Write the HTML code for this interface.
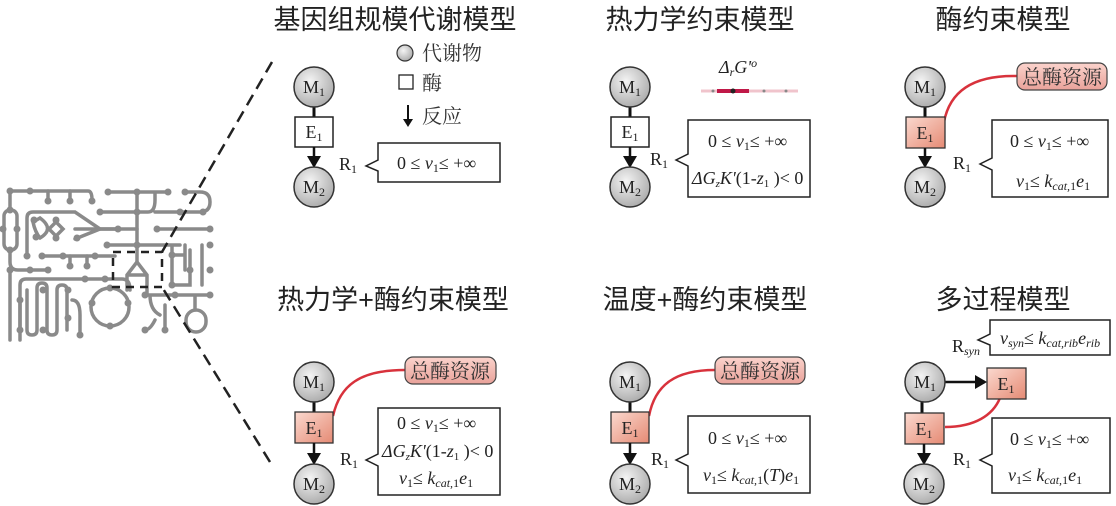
<!DOCTYPE html>
<html><head><meta charset="utf-8"><style>
html,body{margin:0;padding:0;background:#fff;}
svg{display:block;}
.t{font-family:"Liberation Sans","Noto Sans CJK SC",sans-serif;font-size:27px;fill:#222;text-anchor:middle;}
.cj{font-family:"Liberation Serif","Noto Serif CJK SC",serif;font-size:20px;fill:#333;}
.m{font-family:"Liberation Serif",serif;font-size:18px;fill:#222;}
.i{font-style:italic;}
.nl{font-family:"Liberation Serif",serif;font-size:18px;fill:#222;text-anchor:middle;}
.net path,.net line,.net circle.r{stroke:#8a8a8a;stroke-width:3.5;fill:none;stroke-linecap:round;}
.net circle.d{fill:#8a8a8a;}
.pill{font-family:"Liberation Serif","Noto Serif CJK SC",serif;font-size:20px;fill:#333;text-anchor:middle;}
</style></head><body>
<svg width="1116" height="506" viewBox="0 0 1116 506" xmlns="http://www.w3.org/2000/svg">
<defs>
<radialGradient id="gc" cx="40%" cy="35%" r="70%"><stop offset="0" stop-color="#f4f4f4"/><stop offset="1" stop-color="#a9a9a9"/></radialGradient>
<linearGradient id="ge" x1="0" y1="0" x2="1" y2="1"><stop offset="0" stop-color="#fbd9cf"/><stop offset="1" stop-color="#e58a74"/></linearGradient>
<linearGradient id="gp" x1="0" y1="0" x2="0" y2="1"><stop offset="0" stop-color="#fbd3cc"/><stop offset="1" stop-color="#e9a29a"/></linearGradient>
<marker id="ar" markerWidth="8" markerHeight="10" refX="6" refY="5" orient="auto" markerUnits="userSpaceOnUse"><path d="M0,0 L8,5 L0,10 Z" fill="#111"/></marker>
<marker id="ar2" markerWidth="12" markerHeight="14" refX="10" refY="7" orient="auto" markerUnits="userSpaceOnUse"><path d="M0,0 L12,7 L0,14 Z" fill="#111"/></marker>
</defs>

<!-- network -->
<g class="net">
<path d="M10,191 H88 Q92,191 92,200"/><line x1="48" y1="191" x2="48" y2="201"/><line x1="70" y1="191" x2="70" y2="201"/>
<path d="M10,191 V210"/><rect x="4" y="210" width="13" height="40" rx="6" style="stroke:#8a8a8a;stroke-width:3.5;fill:none"/>
<path d="M10,250 V262 Q10,270 18,270 H48"/><line x1="10" y1="270" x2="10" y2="340"/>
<path d="M27,256 V218 Q27,212 33,212 H75 L100,229 H118"/>
<path d="M33,222 Q35,232 40,238 M75,229 L100,229 L75,239 M33,222 L40,218 M40,218 Q55,229 40,238 M56,222 L63,229 L56,236 L49,229 Z"/>
<path d="M42,256 H115"/><path d="M70,256 V266 M87,256 V266"/>
<path d="M20,340 V285 Q20,279 26,279 H122 Q130,279 130,290"/>
<path d="M20,300 V330 M27,290 V330 Q27,335 32,335 Q37,335 37,330 V288 Q37,283 42,283 Q47,283 47,288 V330 Q47,335 52,335 Q57,335 57,330 V290 Q57,285 62,285 Q67,285 67,290 V330 M72,300 Q80,300 80,315 V335"/>
<circle class="r" cx="110" cy="307" r="19"/>
<path d="M108,192 H168 M137,192 V262 M100,212 H148 Q155,212 155,200 V192 M155,212 H203 M185,192 H200 Q210,192 210,202 Q210,212 200,212"/>
<path d="M157,229 H210 M100,229 H137 M107,245 H180 M172,245 V285 M172,255 H185 M185,245 V270 M190,250 V285 H172 M202,245 V285"/>
<path d="M137,262 L127,275 V290 M137,262 L147,275 V295 M127,275 H147"/>
<path d="M145,295 H210 M150,295 Q150,310 160,315 M165,305 V330 M155,320 Q150,330 145,330 M195,295 V310"/>
<rect x="186" y="310" width="20" height="22" rx="10" style="stroke:#8a8a8a;stroke-width:3.5;fill:none"/>
<g>
<circle class="d" cx="10" cy="191" r="3.5"/><circle class="d" cx="30" cy="191" r="3.5"/><circle class="d" cx="48" cy="201" r="3.5"/><circle class="d" cx="70" cy="201" r="3.5"/><circle class="d" cx="92" cy="201" r="3.5"/>
<circle class="d" cx="3" cy="229" r="3.5"/><circle class="d" cx="17" cy="229" r="3.5"/><circle class="d" cx="10" cy="210" r="3.5"/><circle class="d" cx="10" cy="250" r="3.5"/>
<circle class="d" cx="27" cy="256" r="3.5"/><circle class="d" cx="34" cy="220" r="3.5"/><circle class="d" cx="36" cy="237" r="3.5"/><circle class="d" cx="56" cy="220" r="3.5"/><circle class="d" cx="56" cy="238" r="3.5"/><circle class="d" cx="77" cy="238" r="3.5"/><circle class="d" cx="118" cy="229" r="3.5"/>
<circle class="d" cx="42" cy="256" r="3.5"/><circle class="d" cx="63" cy="256" r="3.5"/><circle class="d" cx="95" cy="256" r="3.5"/><circle class="d" cx="70" cy="266" r="3.5"/><circle class="d" cx="87" cy="266" r="3.5"/>
<circle class="d" cx="10" cy="270" r="3.5"/><circle class="d" cx="30" cy="270" r="3.5"/><circle class="d" cx="48" cy="270" r="3.5"/>
<circle class="d" cx="20" cy="300" r="3.5"/><circle class="d" cx="20" cy="330" r="3.5"/><circle class="d" cx="43" cy="290" r="3.5"/><circle class="d" cx="43" cy="330" r="3.5"/><circle class="d" cx="68" cy="290" r="3.5"/><circle class="d" cx="68" cy="318" r="3.5"/><circle class="d" cx="80" cy="335" r="3.5"/>
<circle class="d" cx="85" cy="279" r="3.5"/><circle class="d" cx="105" cy="279" r="3.5"/>
<circle class="d" cx="110" cy="288" r="3.5"/><circle class="d" cx="92" cy="303" r="3.5"/><circle class="d" cx="128" cy="303" r="3.5"/><circle class="d" cx="110" cy="326" r="3.5"/>
<circle class="d" cx="108" cy="192" r="3.5"/><circle class="d" cx="137" cy="192" r="3.5"/><circle class="d" cx="168" cy="192" r="3.5"/><circle class="d" cx="185" cy="192" r="3.5"/>
<circle class="d" cx="100" cy="212" r="3.5"/><circle class="d" cx="137" cy="212" r="3.5"/><circle class="d" cx="203" cy="212" r="3.5"/><circle class="d" cx="180" cy="212" r="3.5"/>
<circle class="d" cx="157" cy="229" r="3.5"/><circle class="d" cx="210" cy="229" r="3.5"/><circle class="d" cx="107" cy="245" r="3.5"/><circle class="d" cx="137" cy="245" r="3.5"/><circle class="d" cx="210" cy="245" r="3.5"/>
<circle class="d" cx="172" cy="255" r="3.5"/><circle class="d" cx="190" cy="270" r="3.5"/><circle class="d" cx="210" cy="270" r="3.5"/><circle class="d" cx="172" cy="285" r="3.5"/>
<circle class="d" cx="145" cy="295" r="3.5"/><circle class="d" cx="175" cy="295" r="3.5"/><circle class="d" cx="210" cy="295" r="3.5"/><circle class="d" cx="145" cy="330" r="3.5"/><circle class="d" cx="165" cy="330" r="3.5"/>
</g>
</g>
<rect x="113" y="252" width="49" height="35" fill="none" stroke="#222" stroke-width="2.5" stroke-dasharray="8,6"/>
<line x1="272" y1="62" x2="162" y2="252" stroke="#222" stroke-width="2.5" stroke-dasharray="12,7"/>
<line x1="270" y1="462" x2="162" y2="287" stroke="#222" stroke-width="2.5" stroke-dasharray="12,7"/>

<!-- Titles -->
<text class="t" x="395" y="29">基因组规模代谢模型</text>
<text class="t" x="700" y="29">热力学约束模型</text>
<text class="t" x="1003" y="29">酶约束模型</text>
<text class="t" x="393" y="309">热力学+酶约束模型</text>
<text class="t" x="705" y="309">温度+酶约束模型</text>
<text class="t" x="1003" y="309">多过程模型</text>

<!-- Legend -->
<circle cx="405" cy="53" r="8" fill="url(#gc)" stroke="#333" stroke-width="1.2"/>
<text class="cj" x="422" y="60">代谢物</text>
<rect x="399" y="75" width="14" height="14" fill="#fff" stroke="#222" stroke-width="1.3"/>
<text class="cj" x="422" y="90">酶</text>
<line x1="408" y1="105" x2="408" y2="125" stroke="#111" stroke-width="2" marker-end="url(#ar)"/>
<text class="cj" x="422" y="123">反应</text>

<!-- Panel 1 -->
<line x1="314" y1="107" x2="314" y2="117" stroke="#111" stroke-width="3"/>
<circle cx="314" cy="87" r="20" fill="url(#gc)" stroke="#333" stroke-width="1.5"/>
<text class="nl" x="314" y="93">M<tspan font-size="12" dy="3">1</tspan></text>
<rect x="295" y="117" width="38" height="30" fill="#fff" stroke="#222" stroke-width="1.5"/>
<text class="nl" x="314" y="138">E<tspan font-size="12" dy="3">1</tspan></text>
<line x1="314" y1="147" x2="314" y2="166" stroke="#111" stroke-width="2.5" marker-end="url(#ar2)"/>
<circle cx="314" cy="187" r="20" fill="url(#gc)" stroke="#333" stroke-width="1.5"/>
<text class="nl" x="314" y="193">M<tspan font-size="12" dy="3">2</tspan></text>
<text class="m" x="339" y="170">R<tspan font-size="12" dy="3">1</tspan></text>
<path d="M378,143 H500 V182 H378 V171 L366,166 L378,160 Z" fill="#fff" stroke="#222" stroke-width="1.5"/>
<text class="m" x="397" y="169">0 ≤ <tspan class="i">v</tspan><tspan font-size="12" dy="3">1</tspan><tspan dy="-3">≤ +∞</tspan></text>

<!-- Panel 2 -->
<line x1="630" y1="107" x2="630" y2="117" stroke="#111" stroke-width="3"/>
<circle cx="630" cy="87" r="20" fill="url(#gc)" stroke="#333" stroke-width="1.5"/>
<text class="nl" x="630" y="93">M<tspan font-size="12" dy="3">1</tspan></text>
<rect x="611" y="117" width="38" height="30" fill="#fff" stroke="#222" stroke-width="1.5"/>
<text class="nl" x="630" y="138">E<tspan font-size="12" dy="3">1</tspan></text>
<line x1="630" y1="147" x2="630" y2="166" stroke="#111" stroke-width="2.5" marker-end="url(#ar2)"/>
<circle cx="630" cy="187" r="20" fill="url(#gc)" stroke="#333" stroke-width="1.5"/>
<text class="nl" x="630" y="193">M<tspan font-size="12" dy="3">2</tspan></text>
<text class="m" x="650" y="165">R<tspan font-size="12" dy="3">1</tspan></text>
<path d="M688,120 H810 V197 H688 V166 L676,160 L688,154 Z" fill="#fff" stroke="#222" stroke-width="1.5"/>
<text class="m" x="708" y="147">0 ≤ <tspan class="i">v</tspan><tspan font-size="12" dy="3">1</tspan><tspan dy="-3">≤ +∞</tspan></text>
<text class="m" x="692" y="184" font-size="17"><tspan class="i">ΔG</tspan><tspan font-size="11" dy="3" class="i">z</tspan><tspan dy="-3" class="i">K'</tspan>(1-<tspan class="i">z</tspan><tspan font-size="11" dy="3">1</tspan><tspan dy="-3"> )&lt; 0</tspan></text>
<text class="m i" x="719" y="73" font-size="19">Δ<tspan font-size="12" dy="3">r</tspan><tspan dy="-3">G'</tspan><tspan font-size="12" dy="-6">o</tspan></text>
<line x1="701" y1="91" x2="798" y2="91" stroke="#f0c4cc" stroke-width="3"/>
<line x1="717" y1="91" x2="749" y2="91" stroke="#c01848" stroke-width="4"/>
<circle cx="733" cy="91" r="2.5" fill="#222"/><circle cx="713" cy="91" r="1.5" fill="#888"/><circle cx="764" cy="91" r="1.5" fill="#888"/><circle cx="786" cy="91" r="1.5" fill="#888"/>

<!-- Panel 3 -->
<path d="M944,122 C950,90 975,75 1017,76" fill="none" stroke="#d8323c" stroke-width="2.5"/>
<rect x="1017" y="63" width="90" height="27" rx="8" fill="url(#gp)" stroke="#444" stroke-width="1.2"/>
<text class="pill" x="1062" y="84">总酶资源</text>
<line x1="925" y1="107" x2="925" y2="117" stroke="#111" stroke-width="3"/>
<circle cx="925" cy="87" r="20" fill="url(#gc)" stroke="#333" stroke-width="1.5"/>
<text class="nl" x="925" y="93">M<tspan font-size="12" dy="3">1</tspan></text>
<rect x="906" y="117" width="39" height="31" fill="url(#ge)" stroke="#333" stroke-width="1.3"/>
<text class="nl" x="925" y="139">E<tspan font-size="12" dy="3">1</tspan></text>
<line x1="925" y1="148" x2="925" y2="166" stroke="#111" stroke-width="2.5" marker-end="url(#ar2)"/>
<circle cx="925" cy="187" r="20" fill="url(#gc)" stroke="#333" stroke-width="1.5"/>
<text class="nl" x="925" y="193">M<tspan font-size="12" dy="3">2</tspan></text>
<text class="m" x="953" y="169">R<tspan font-size="12" dy="3">1</tspan></text>
<path d="M992,120 H1108 V197 H992 V170 L980,164 L992,158 Z" fill="#fff" stroke="#222" stroke-width="1.5"/>
<text class="m" x="1010" y="147">0 ≤ <tspan class="i">v</tspan><tspan font-size="12" dy="3">1</tspan><tspan dy="-3">≤ +∞</tspan></text>
<text class="m" x="1016" y="187"><tspan class="i">v</tspan><tspan font-size="12" dy="3">1</tspan><tspan dy="-3">≤ </tspan><tspan class="i">k</tspan><tspan font-size="12" dy="3" class="i">cat,</tspan><tspan font-size="12">1</tspan><tspan dy="-3" class="i">e</tspan><tspan font-size="12" dy="3">1</tspan></text>

<!-- Panel 4 -->
<path d="M333,416 C340,385 360,370 405,370" fill="none" stroke="#d8323c" stroke-width="2.5"/>
<rect x="405" y="357" width="91" height="27" rx="8" fill="url(#gp)" stroke="#444" stroke-width="1.2"/>
<text class="pill" x="450" y="378">总酶资源</text>
<line x1="314" y1="402" x2="314" y2="412" stroke="#111" stroke-width="3"/>
<circle cx="314" cy="382" r="20" fill="url(#gc)" stroke="#333" stroke-width="1.5"/>
<text class="nl" x="314" y="388">M<tspan font-size="12" dy="3">1</tspan></text>
<rect x="295" y="412" width="38" height="31" fill="url(#ge)" stroke="#333" stroke-width="1.3"/>
<text class="nl" x="314" y="434">E<tspan font-size="12" dy="3">1</tspan></text>
<line x1="314" y1="443" x2="314" y2="463" stroke="#111" stroke-width="2.5" marker-end="url(#ar2)"/>
<circle cx="314" cy="484" r="20" fill="url(#gc)" stroke="#333" stroke-width="1.5"/>
<text class="nl" x="314" y="490">M<tspan font-size="12" dy="3">2</tspan></text>
<text class="m" x="340" y="465">R<tspan font-size="12" dy="3">1</tspan></text>
<path d="M378,408 H500 V495 H378 V466 L366,460 L378,454 Z" fill="#fff" stroke="#222" stroke-width="1.5"/>
<text class="m" x="397" y="429">0 ≤ <tspan class="i">v</tspan><tspan font-size="12" dy="3">1</tspan><tspan dy="-3">≤ +∞</tspan></text>
<text class="m" x="382" y="457" font-size="17"><tspan class="i">ΔG</tspan><tspan font-size="11" dy="3" class="i">z</tspan><tspan dy="-3" class="i">K'</tspan>(1-<tspan class="i">z</tspan><tspan font-size="11" dy="3">1</tspan><tspan dy="-3"> )&lt; 0</tspan></text>
<text class="m" x="399" y="484"><tspan class="i">v</tspan><tspan font-size="12" dy="3">1</tspan><tspan dy="-3">≤ </tspan><tspan class="i">k</tspan><tspan font-size="12" dy="3" class="i">cat,</tspan><tspan font-size="12">1</tspan><tspan dy="-3" class="i">e</tspan><tspan font-size="12" dy="3">1</tspan></text>

<!-- Panel 5 -->
<path d="M649,416 C655,385 675,370 715,370" fill="none" stroke="#d8323c" stroke-width="2.5"/>
<rect x="715" y="357" width="90" height="27" rx="8" fill="url(#gp)" stroke="#444" stroke-width="1.2"/>
<text class="pill" x="760" y="378">总酶资源</text>
<line x1="630" y1="402" x2="630" y2="412" stroke="#111" stroke-width="3"/>
<circle cx="630" cy="382" r="20" fill="url(#gc)" stroke="#333" stroke-width="1.5"/>
<text class="nl" x="630" y="388">M<tspan font-size="12" dy="3">1</tspan></text>
<rect x="611" y="412" width="38" height="31" fill="url(#ge)" stroke="#333" stroke-width="1.3"/>
<text class="nl" x="630" y="434">E<tspan font-size="12" dy="3">1</tspan></text>
<line x1="630" y1="443" x2="630" y2="463" stroke="#111" stroke-width="2.5" marker-end="url(#ar2)"/>
<circle cx="630" cy="484" r="20" fill="url(#gc)" stroke="#333" stroke-width="1.5"/>
<text class="nl" x="630" y="490">M<tspan font-size="12" dy="3">2</tspan></text>
<text class="m" x="651" y="465">R<tspan font-size="12" dy="3">1</tspan></text>
<path d="M688,416 H810 V493 H688 V466 L676,460 L688,454 Z" fill="#fff" stroke="#222" stroke-width="1.5"/>
<text class="m" x="708" y="444">0 ≤ <tspan class="i">v</tspan><tspan font-size="12" dy="3">1</tspan><tspan dy="-3">≤ +∞</tspan></text>
<text class="m" x="703" y="481"><tspan class="i">v</tspan><tspan font-size="12" dy="3">1</tspan><tspan dy="-3">≤ </tspan><tspan class="i">k</tspan><tspan font-size="12" dy="3" class="i">cat,</tspan><tspan font-size="12">1</tspan><tspan dy="-3">(</tspan><tspan class="i">T</tspan>)<tspan class="i">e</tspan><tspan font-size="12" dy="3">1</tspan></text>

<!-- Panel 6 -->
<path d="M990,320 H1110 V355 H990 V345 L978,340 L990,334 Z" fill="#fff" stroke="#222" stroke-width="1.5"/>
<text class="m" x="1000" y="344"><tspan class="i">v</tspan><tspan font-size="12" dy="3" class="i">syn</tspan><tspan dy="-3">≤ </tspan><tspan class="i">k</tspan><tspan font-size="12" dy="3" class="i">cat,rib</tspan><tspan dy="-3" class="i">e</tspan><tspan font-size="12" dy="3" class="i">rib</tspan></text>
<text class="m" x="952" y="352">R<tspan font-size="12" dy="3" class="i">syn</tspan></text>
<path d="M945,427 C975,427 993,415 1000,398" fill="none" stroke="#d8323c" stroke-width="2.5"/>
<line x1="922" y1="402" x2="922" y2="413" stroke="#111" stroke-width="3"/>
<line x1="942" y1="382" x2="985" y2="382" stroke="#111" stroke-width="2.5" marker-end="url(#ar2)"/>
<circle cx="925" cy="382" r="20" fill="url(#gc)" stroke="#333" stroke-width="1.5"/>
<text class="nl" x="925" y="388">M<tspan font-size="12" dy="3">1</tspan></text>
<rect x="987" y="368" width="39" height="31" fill="url(#ge)" stroke="#333" stroke-width="1.3"/>
<text class="nl" x="1006" y="390">E<tspan font-size="12" dy="3">1</tspan></text>
<rect x="905" y="413" width="39" height="31" fill="url(#ge)" stroke="#333" stroke-width="1.3"/>
<text class="nl" x="924" y="435">E<tspan font-size="12" dy="3">1</tspan></text>
<line x1="924" y1="444" x2="924" y2="463" stroke="#111" stroke-width="2.5" marker-end="url(#ar2)"/>
<circle cx="924" cy="484" r="20" fill="url(#gc)" stroke="#333" stroke-width="1.5"/>
<text class="nl" x="924" y="490">M<tspan font-size="12" dy="3">2</tspan></text>
<text class="m" x="953" y="465">R<tspan font-size="12" dy="3">1</tspan></text>
<path d="M992,418 H1110 V493 H992 V466 L980,460 L992,454 Z" fill="#fff" stroke="#222" stroke-width="1.5"/>
<text class="m" x="1010" y="445">0 ≤ <tspan class="i">v</tspan><tspan font-size="12" dy="3">1</tspan><tspan dy="-3">≤ +∞</tspan></text>
<text class="m" x="1008" y="481"><tspan class="i">v</tspan><tspan font-size="12" dy="3">1</tspan><tspan dy="-3">≤ </tspan><tspan class="i">k</tspan><tspan font-size="12" dy="3" class="i">cat,</tspan><tspan font-size="12">1</tspan><tspan dy="-3" class="i">e</tspan><tspan font-size="12" dy="3">1</tspan></text>
</svg>
</body></html>
